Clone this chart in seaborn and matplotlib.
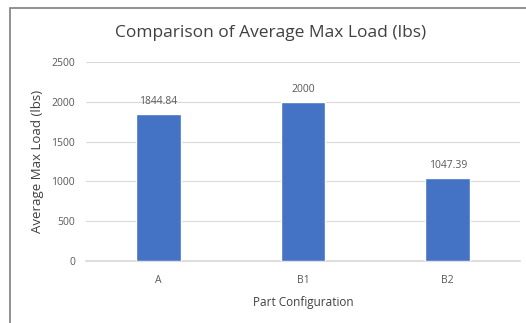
import matplotlib
matplotlib.use("Agg")
import matplotlib.pyplot as plt
import seaborn as sns
import pandas as pd
from matplotlib.patches import Rectangle

categories = ["A", "B1", "B2"]
values = [1844.84, 2000, 1047.39]
value_labels = ["1844.84", "2000", "1047.39"]
yticks = [0, 500, 1000, 1500, 2000, 2500]

sns.set_theme(style="white")
plt.rcParams["font.family"] = ["Open Sans", "DejaVu Sans"]

df = pd.DataFrame({"cfg": categories, "load": values})

fig = plt.figure(figsize=(5.26, 3.23), dpi=100)
ax = fig.add_axes([86/526, 1 - 261/323, (520-86)/526, (261-62)/323])

sns.barplot(data=df, x="cfg", y="load", color="#4472C4", width=0.31,
            saturation=1, ax=ax, zorder=3)

ax.set_ylim(0, 2500)
ax.set_yticks(yticks)
ax.set_yticklabels([str(t) for t in yticks])
ax.grid(axis="y", color="#D9D9D9", linewidth=0.8, zorder=0)
for s in ["top", "right", "left"]:
    ax.spines[s].set_visible(False)
ax.spines["bottom"].set_color("#D9D9D9")
ax.tick_params(axis="both", length=0, colors="#595959", labelsize=7.5)
ax.tick_params(axis="y", pad=8)
ax.tick_params(axis="x", pad=10)

for i, (v, lab) in enumerate(zip(values, value_labels)):
    ax.annotate(lab, (i, v), xytext=(0, 5), textcoords="offset points",
                ha="center", va="bottom", fontsize=7.5, color="#595959")

ax.set_xlabel("Part Configuration", fontsize=8.5, color="#404040", labelpad=7)
ax.set_ylabel("Average Max Load (lbs)", fontsize=9.5, color="#404040", labelpad=5)
fig.text(271/526, 1 - 33/323, "Comparison of Average Max Load (lbs)",
         ha="center", va="center", fontsize=12.5, color="#404040")

fig.patches.append(Rectangle((10/526, -0.1), 1.2, 1 - 8/323 + 0.1,
                             transform=fig.transFigure, fill=False,
                             edgecolor="#7F7F7F", linewidth=1.2))

fig.savefig("out.png", dpi=100)
